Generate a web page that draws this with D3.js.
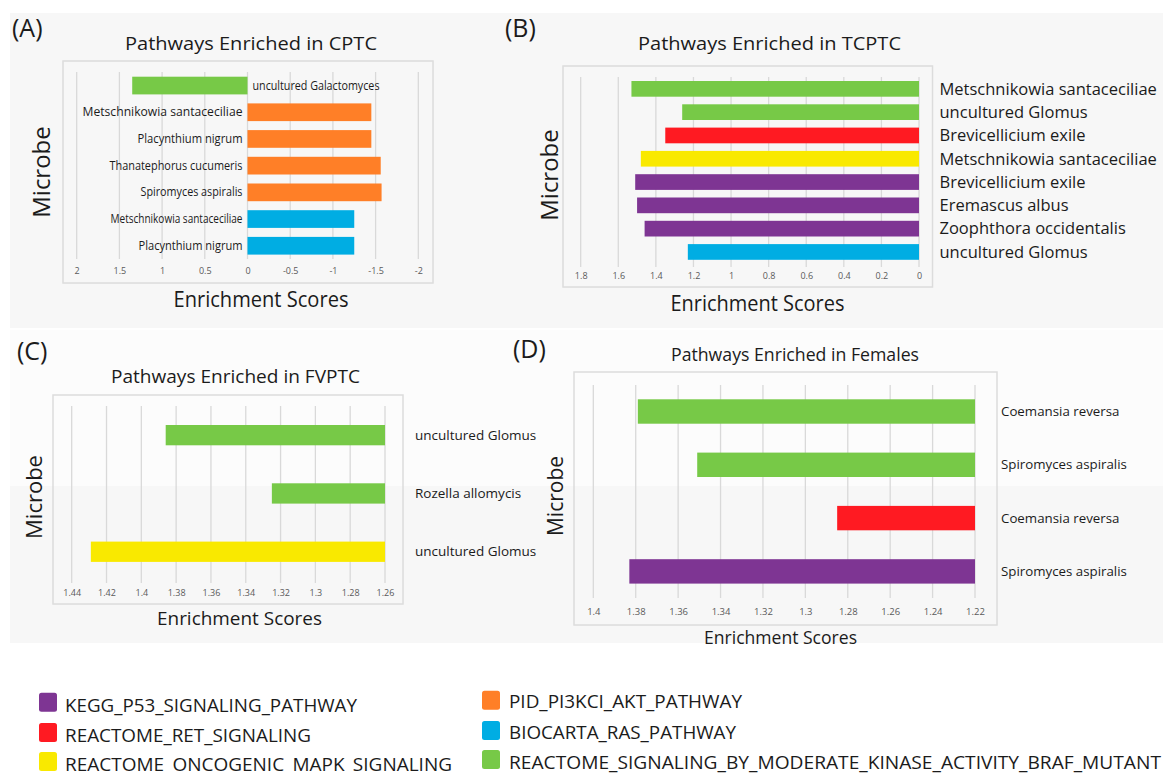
<!DOCTYPE html>
<html>
<head>
<meta charset="utf-8">
<script src="https://cdn.jsdelivr.net/npm/d3@7"></script>
<style>
  html, body { margin: 0; padding: 0; background: #ffffff; }
  svg { display: block; font-family: "Open Sans", "Noto Sans", sans-serif; }
</style>
</head>
<body>
<svg id="fig" width="1163" height="773"></svg>
<script>
// ---- Data -------------------------------------------------------------
const pathwayNames = ["KEGG_P53_SIGNALING_PATHWAY", "REACTOME_RET_SIGNALING", "REACTOME_ONCOGENIC_MAPK_SIGNALING",
                      "PID_PI3KCI_AKT_PATHWAY", "BIOCARTA_RAS_PATHWAY", "REACTOME_SIGNALING_BY_MODERATE_KINASE_ACTIVITY_BRAF_MUTANT"];
const pathwayColors = ["#7e3593", "#ff1a22", "#f9e900", "#ff7f27", "#00ade3", "#77c947"];

// (A) CPTC
const cptcMicrobes = ["uncultured Galactomyces", "Metschnikowia santaceciliae", "Placynthium nigrum",
                      "Thanatephorus cucumeris", "Spiromyces aspiralis", "Metschnikowia santaceciliae", "Placynthium nigrum"];
const cptcScores = [1.35, -1.45, -1.45, -1.56, -1.57, -1.25, -1.25];
const cptcPathways = [5, 3, 3, 3, 3, 4, 4];
const cptcTicks = [2, 1.5, 1, 0.5, 0, -0.5, -1, -1.5, -2];

// (B) TCPTC
const tcptcMicrobes = ["Metschnikowia santaceciliae", "uncultured Glomus", "Brevicellicium exile",
                       "Metschnikowia santaceciliae", "Brevicellicium exile", "Eremascus albus",
                       "Zoophthora occidentalis", "uncultured Glomus"];
const tcptcScores = [1.53, 1.26, 1.35, 1.48, 1.51, 1.50, 1.46, 1.23];
const tcptcPathways = [5, 5, 1, 2, 0, 0, 0, 4];
const tcptcTicks = [1.8, 1.6, 1.4, 1.2, 1, 0.8, 0.6, 0.4, 0.2, 0];

// (C) FVPTC
const fvptcMicrobes = ["uncultured Glomus", "Rozella allomycis", "uncultured Glomus"];
const fvptcScores = [1.386, 1.325, 1.429];
const fvptcPathways = [5, 5, 2];
const fvptcTicks = [1.44, 1.42, 1.4, 1.38, 1.36, 1.34, 1.32, 1.3, 1.28, 1.26];

// (D) Females
const femaleMicrobes = ["Coemansia reversa", "Spiromyces aspiralis", "Coemansia reversa", "Spiromyces aspiralis"];
const femaleScores = [1.379, 1.351, 1.285, 1.383];
const femalePathways = [5, 5, 1, 0];
const femaleTicks = [1.4, 1.38, 1.36, 1.34, 1.32, 1.3, 1.28, 1.26, 1.24, 1.22];

// ---- Drawing ----------------------------------------------------------
const svg = d3.select("#fig");
const ink = "#1b1b1b";

// panel backgrounds
svg.append("rect").attr("x", 10).attr("y", 13).attr("width", 1153).attr("height", 315).attr("fill", "#f7f7f7");
svg.append("rect").attr("x", 10).attr("y", 330).attr("width", 1153).attr("height", 156).attr("fill", "#fcfcfc");
svg.append("rect").attr("x", 10).attr("y", 486).attr("width", 1153).attr("height", 157).attr("fill", "#f7f7f7");

function fit(sel, w) {
  if (w) sel.attr("textLength", w).attr("lengthAdjust", "spacingAndGlyphs");
  return sel;
}

function drawPanel(cfg, microbes, scores, paths) {
  const g = svg.append("g");
  const idx = d3.range(microbes.length);

  // frame around plot area
  g.append("rect")
    .attr("x", cfg.box[0]).attr("y", cfg.box[1])
    .attr("width", cfg.box[2] - cfg.box[0]).attr("height", cfg.box[3] - cfg.box[1])
    .attr("fill", "none").attr("stroke", "#dcdcdc").attr("stroke-width", 1.5);

  const x = d3.scaleLinear().domain([cfg.ticks[0], cfg.ticks[cfg.ticks.length - 1]]).range(cfg.xRange);
  const pi = 1 - cfg.barH / cfg.step;
  const r0 = cfg.barTop - pi * cfg.step / 2;
  const y = d3.scaleBand().domain(idx).range([r0, r0 + cfg.step * idx.length])
    .paddingInner(pi).paddingOuter(pi / 2);

  // vertical gridlines
  g.selectAll("line.grid").data(cfg.ticks).join("line")
    .attr("class", "grid")
    .attr("x1", d => x(d)).attr("x2", d => x(d))
    .attr("y1", cfg.gridY[0]).attr("y2", cfg.gridY[1])
    .attr("stroke", "#d9d9d9").attr("stroke-width", 1.3);

  // tick labels via a bottom axis
  const axis = d3.axisBottom(x).tickValues(cfg.ticks).tickFormat(d => String(d)).tickSize(0).tickPadding(0);
  const ax = g.append("g").attr("transform", `translate(0,${cfg.tickY})`).call(axis);
  ax.select(".domain").remove();
  ax.selectAll("text").attr("fill", "#5a5a5a").attr("font-size", cfg.tickSize)
    .attr("font-family", "'Open Sans', sans-serif").attr("dy", "0.32em").attr("y", 0);

  // bars
  g.selectAll("rect.bar").data(idx).join("rect")
    .attr("class", "bar")
    .attr("x", i => Math.min(x(cfg.base), x(scores[i])))
    .attr("width", i => Math.abs(x(scores[i]) - x(cfg.base)))
    .attr("y", i => y(i)).attr("height", y.bandwidth())
    .attr("fill", i => pathwayColors[paths[i]]);

  // microbe labels
  const labs = g.selectAll("text.lab").data(idx).join("text")
    .attr("class", "lab")
    .attr("x", i => {
      if (cfg.labelMode === "zero") return scores[i] > 0 ? x(0) + 5 : x(0) - 5;
      return cfg.labelX;
    })
    .attr("text-anchor", i => (cfg.labelMode === "zero" && scores[i] <= 0) ? "end" : "start")
    .attr("y", i => y(i) + y.bandwidth() / 2)
    .attr("dy", "0.35em")
    .attr("font-size", cfg.labelSize)
    .attr("fill", ink)
    .text(i => microbes[i]);
  if (cfg.labelWidths) labs.each(function (i) { fit(d3.select(this), cfg.labelWidths[i]); });

  // panel letter
  g.append("text").attr("x", cfg.letter[0]).attr("y", cfg.letter[1])
    .attr("font-size", cfg.letter[2]).attr("fill", ink).text(cfg.letterText);

  // title
  fit(g.append("text").attr("x", cfg.title[0]).attr("y", cfg.title[1])
    .attr("text-anchor", "middle").attr("font-size", cfg.title[2]).attr("fill", ink)
    .text(cfg.titleText), cfg.title[3]);

  // x axis title
  fit(g.append("text").attr("x", cfg.xTitle[0]).attr("y", cfg.xTitle[1])
    .attr("text-anchor", "middle").attr("font-size", cfg.xTitle[2]).attr("fill", ink)
    .text("Enrichment Scores"), cfg.xTitle[3]);

  // y axis title
  g.append("text")
    .attr("transform", `translate(${cfg.yTitle[0]},${cfg.yTitle[1]}) rotate(-90)`)
    .attr("text-anchor", "middle").attr("font-size", cfg.yTitle[2]).attr("fill", ink)
    .text("Microbe");
}

drawPanel({
  letterText: "(A)", letter: [12, 37, 25],
  titleText: "Pathways Enriched in CPTC", title: [251, 50, 19, 252],
  xTitle: [261, 307, 21, 175], yTitle: [50, 172, 24],
  box: [63, 61, 433, 283], ticks: cptcTicks, xRange: [76.7, 418.3], base: 0,
  gridY: [72, 259], tickY: 271, tickSize: 9,
  barTop: 76.7, step: 26.7, barH: 17.7,
  labelMode: "zero", labelSize: 11.8,
  labelWidths: [127, 160, 105, 133, 102, 132, 104]
}, cptcMicrobes, cptcScores, cptcPathways);

drawPanel({
  letterText: "(B)", letter: [505, 37, 25],
  titleText: "Pathways Enriched in TCPTC", title: [769.5, 50, 19, 263],
  xTitle: [757.5, 311, 21, 174], yTitle: [557.6, 175, 24],
  box: [563, 66, 932.5, 287], ticks: tcptcTicks, xRange: [580.7, 919], base: 0,
  gridY: [77, 267], tickY: 276, tickSize: 9,
  barTop: 81, step: 23.3, barH: 15.7,
  labelMode: "right", labelX: 939.5, labelSize: 16.5
}, tcptcMicrobes, tcptcScores, tcptcPathways);

drawPanel({
  letterText: "(C)", letter: [17, 360, 25],
  titleText: "Pathways Enriched in FVPTC", title: [235.5, 383, 18.5, 249],
  xTitle: [239.5, 625, 19, 165], yTitle: [41.7, 497, 22],
  box: [53, 395, 403, 604], ticks: fvptcTicks, xRange: [71.7, 385], base: 1.26,
  gridY: [406, 583], tickY: 593, tickSize: 9,
  barTop: 425, step: 58.3, barH: 20.3,
  labelMode: "right", labelX: 415, labelSize: 13.5
}, fvptcMicrobes, fvptcScores, fvptcPathways);

drawPanel({
  letterText: "(D)", letter: [513, 358, 25],
  titleText: "Pathways Enriched in Females", title: [795, 361, 17.5, 248],
  xTitle: [780.5, 644, 18, 153], yTitle: [562.6, 496, 21],
  box: [574, 372, 997, 625], ticks: femaleTicks, xRange: [593.3, 975], base: 1.22,
  gridY: [385, 598], tickY: 612, tickSize: 9.5,
  barTop: 399.3, step: 53.3, barH: 24.4,
  labelMode: "right", labelX: 1001, labelSize: 13.3
}, femaleMicrobes, femaleScores, femalePathways);

// ---- Legend ------------------------------------------------------------
const legendCols = [
  { sx: 39, tx: 65, squareTops: [692.7, 723, 752], baselines: [711.5, 741.5, 771] },
  { sx: 482, tx: 509, squareTops: [690.7, 721, 750], baselines: [708, 739, 768.5] }
];
const legendWidths = [292, 246, 387, 233, 227, 652];
const lg = svg.append("g");
pathwayNames.forEach((name, k) => {
  const col = legendCols[Math.floor(k / 3)], row = k % 3;
  lg.append("rect").attr("x", col.sx).attr("y", col.squareTops[row])
    .attr("width", 18).attr("height", 19).attr("rx", 2.5)
    .attr("fill", pathwayColors[k]);
  fit(lg.append("text").attr("x", col.tx).attr("y", col.baselines[row])
    .attr("font-size", 19).attr("fill", ink).text(name), legendWidths[k]);
});
</script>
</body>
</html>
